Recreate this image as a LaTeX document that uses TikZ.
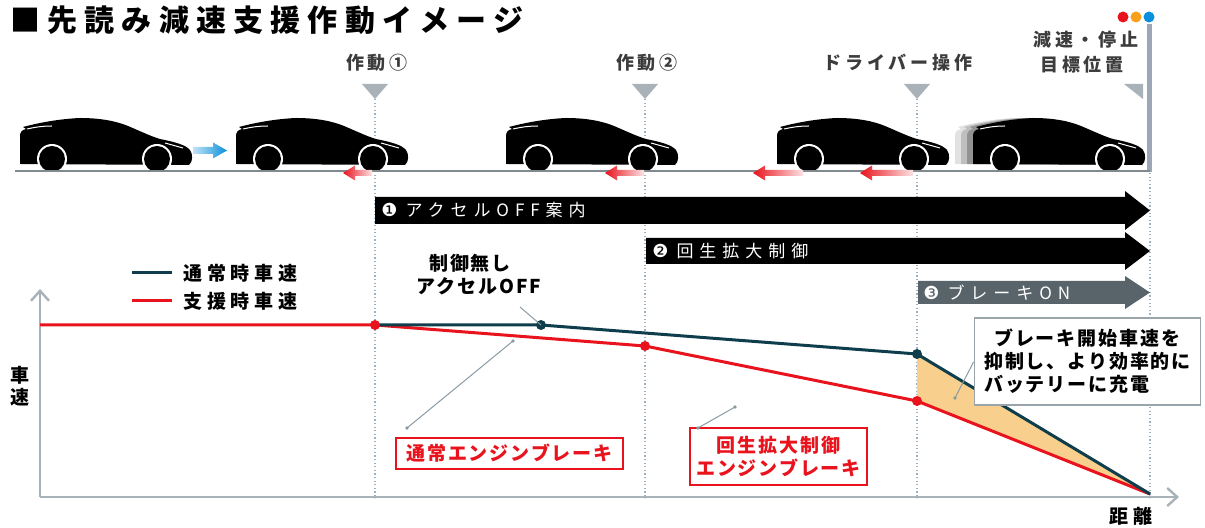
\documentclass[tikz,border=0pt]{standalone}
\usepackage{fontspec}
\usetikzlibrary{arrows.meta}
\newfontfamily\jptitle{Noto Sans CJK JP}[LetterSpace=24]
\newfontfamily\jpmark{Noto Sans CJK JP}[LetterSpace=22]
\newfontfamily\jpbar{Noto Sans CJK JP}[LetterSpace=35]
\newfontfamily\jplabel{Noto Sans CJK JP}[LetterSpace=10]
\newfontfamily\jplegend{Noto Sans CJK JP}[LetterSpace=25]
\newfontfamily\symfont{DejaVu Sans}

\definecolor{tealline}{HTML}{0E3D4C}
\definecolor{redline}{HTML}{E8131D}
\definecolor{guidegray}{HTML}{9DB1C2}
\definecolor{axisgray}{HTML}{A7B3B8}
\definecolor{markgray}{HTML}{A9B2B8}
\definecolor{labelgray}{HTML}{3C3C3C}
\definecolor{bargray}{HTML}{58636A}
\definecolor{fillorange}{HTML}{F8CF8D}
\definecolor{pinblue}{HTML}{0A8FDC}
\definecolor{pinorange}{HTML}{F7A11A}
\definecolor{stopbar}{HTML}{9CA7B6}
\definecolor{roadgray}{HTML}{80898D}
\definecolor{leadergray}{HTML}{8A9BA3}
\definecolor{boxgray}{HTML}{9AA5AB}

\newcommand{\barnum}[1]{{\symfont\fontsize{9}{10}\selectfont #1}\hspace{4pt}}

\tikzset{
  carbody/.pic={
    \fill (2,-7) -- (2,-35) .. controls (2,-39) and (4,-41) .. (8,-42)
      -- (5,-44) .. controls (20,-48) and (40,-52) .. (62,-53)
      .. controls (82,-53) and (98,-50) .. (110,-45)
      .. controls (122,-40) and (132,-35) .. (142,-32)
      .. controls (157,-29) and (168,-26) .. (172,-21)
      .. controls (175,-17) and (175,-9) .. (171,-6) -- cycle;
  },
  carshape/.pic={
    \pic {carbody};
    \foreach \wx in {34,139} {
      \fill[white] (\wx,-12) circle[radius=15];
      \fill[black] (\wx,-12) circle[radius=13];
    }
    \draw[white, line width=0.5pt] (9,-42) .. controls (18,-44) and (25,-45) .. (34,-45);
    \draw[white, line width=0.5pt] (147,-28) -- (165,-23);
  }
}

\begin{document}
\begin{tikzpicture}[x=0.5pt,y=-0.5pt,
  titletext/.style={font=\jptitle\bfseries\fontsize{15}{18}\selectfont, inner sep=0},
  marklabel/.style={font=\jpmark\bfseries\fontsize{9}{11}\selectfont, text=labelgray, inner sep=0},
  bartext/.style={font=\jpbar\fontsize{8.5}{10}\selectfont, text=white, inner sep=0, anchor=west},
  notetext/.style={font=\jplabel\bfseries\fontsize{9.5}{11.5}\selectfont, inner sep=0},
  legendtext/.style={font=\jplegend\bfseries\fontsize{9.5}{11.5}\selectfont, inner sep=0, anchor=west},
  redbox/.style={notetext, text=redline, draw=redline, line width=0.6pt, align=center},
  infobox/.style={notetext, draw=boxgray, fill=white, line width=0.6pt, align=left, inner xsep=5pt},
  marktri/.style={fill=markgray},
  guide/.style={draw=guidegray, line width=0.6pt, dash pattern=on 0.6pt off 1.2pt},
  axis/.style={draw=axisgray, line width=1.2pt, -{Straight Barb[length=5pt,width=9pt]}},
  tealpath/.style={draw=tealline, line width=1.5pt, line join=round},
  redpath/.style={draw=redline, line width=1.5pt, line join=round},
  leader/.style={draw=leadergray, line width=0.5pt},
  pindot/.style={radius=5.5},
]
\useasboundingbox (0,0) rectangle (1205,528);

% ---- title ----
\node[titletext, anchor=west] (title) at (10,20) {■先読み減速支援作動イメージ};

% ---- event markers ----
\node[marklabel] (op1) at (377,63) {作動①};
\node[marklabel] (op2) at (647,63) {作動②};
\node[marklabel] (drv) at (898,63) {ドライバー操作};
\node[marklabel] (stopA) at (1086,40) {減速・停止};
\node[marklabel] (stopB) at (1082,65) {目標位置};

\fill[marktri] (362,84) -- (388,84) -- (375,99) -- cycle;
\fill[marktri] (632,84) -- (658,84) -- (645,99) -- cycle;
\fill[marktri] (904,84) -- (930,84) -- (917,99) -- cycle;
\fill[marktri] (1124,84) -- (1143,84) -- (1143,99) -- cycle;

% stop position pole with three lamps
\draw[stopbar, line width=2.5pt] (1149,24) -- (1149,172);
\fill[redline] (1123,17) circle[pindot];
\fill[pinorange] (1136,17) circle[pindot];
\fill[pinblue] (1149,17) circle[pindot];

% ---- guide lines ----
\coordinate (g1t) at (375,99);  \coordinate (g1b) at (375,497);
\coordinate (g2t) at (645,99);  \coordinate (g2b) at (645,497);
\coordinate (g3t) at (917,99);  \coordinate (g3b) at (917,497);
\coordinate (g4t) at (1150,173); \coordinate (g4b) at (1150,497);
\draw[guide] (g1t) -- (g1b);
\draw[guide] (g2t) -- (g2b);
\draw[guide] (g3t) -- (g3b);
\draw[guide] (g4t) -- (g4b);
\foreach \gx in {375,645,917,1150} \fill[leadergray] (\gx,497) circle[radius=1.6];

% ---- cars ----
\pic at (18,171) {carshape};
\pic at (234,171) {carshape};
\pic at (504,171) {carshape};
\pic at (775,171) {carshape};
\pic[fill=black!45, opacity=0.25] at (953,171) {carbody};
\pic[fill=black!50, opacity=0.35] at (959,171) {carbody};
\pic[fill=black!60, opacity=0.5] at (965,171) {carbody};
\pic at (971,171) {carshape};

% road
\coordinate (roadL) at (15,171);
\coordinate (roadR) at (1150,171);
\draw[roadgray, line width=1pt] (roadL) -- (roadR);

% acceleration / deceleration arrows
\shade[left color=pinblue!25, right color=pinblue]
  (193,147) -- (213,147) -- (213,142.5) -- (227,150.5) -- (213,158.5) -- (213,154) -- (193,154) -- cycle;
\foreach \ax/\bx in {343/372, 605/644, 753/803, 860/913} {
  \shade[left color=redline, right color=redline!12]
    (\ax,173) -- (\ax+12,165.5) -- (\ax+12,170) -- (\bx,170) -- (\bx,176) -- (\ax+12,176) -- (\ax+12,180.5) -- cycle;
}

% ---- phase bars ----
\fill[black] (375,197) -- (1125,197) -- (1125,191) -- (1150,210.5) -- (1125,230) -- (1125,224) -- (375,224) -- cycle;
\node[bartext] (ph1) at (381,210.5) {\barnum{❶}アクセルOFF案内};
\fill[black] (646,238) -- (1125,238) -- (1125,232) -- (1150,251) -- (1125,270) -- (1125,264) -- (646,264) -- cycle;
\node[bartext] (ph2) at (652,251) {\barnum{❷}回生拡大制御};
\fill[bargray] (918,281) -- (1125,281) -- (1125,276) -- (1150,292.5) -- (1125,309) -- (1125,304) -- (918,304) -- cycle;
\node[bartext] (ph3) at (923,292.5) {\barnum{❸}ブレーキON};

% ---- legend ----
\coordinate (lgTa) at (132,273); \coordinate (lgTb) at (172,273);
\coordinate (lgRa) at (132,301); \coordinate (lgRb) at (172,301);
\draw[tealpath] (lgTa) -- (lgTb);
\draw[redpath] (lgRa) -- (lgRb);
\node[legendtext] (lgT) at (183,273) {通常時車速};
\node[legendtext] (lgR) at (183,301) {支援時車速};

% ---- axes ----
\coordinate (origin) at (40,497);
\coordinate (ytip) at (40,289);
\coordinate (xtip) at (1179,497);
\draw[axis] (origin) -- (ytip);
\draw[axis] (origin) -- (xtip);
\node[notetext] (yl1) at (20,375) {車};
\node[notetext] (yl2) at (20,397) {速};
\node[notetext, font=\jplegend\bfseries\fontsize{9.5}{11.5}\selectfont] (xl) at (1131,516) {距離};

% ---- speed curves ----
\coordinate (s0) at (40,325);
\coordinate (s1) at (375,325);
\coordinate (n1) at (541,325);
\coordinate (n2) at (917,354);
\coordinate (sp2) at (645,346);
\coordinate (sp3) at (917,401);
\coordinate (fin) at (1150,494);
\fill[fillorange] (n2) -- (fin) -- (sp3) -- cycle;
\draw[redpath] (s0) -- (s1) -- (sp2) -- (sp3) -- (fin);
\draw[tealpath] (s1) -- (n1) -- (n2) -- (fin);
\fill[redline] (s1) circle[radius=5];
\fill[redline] (sp2) circle[radius=5];
\fill[redline] (sp3) circle[radius=5];
\fill[tealline] (n1) circle[radius=5];
\fill[tealline] (n2) circle[radius=5];

% ---- annotations ----
\node[notetext] (noctl) at (470,263) {制御無し};
\node[notetext] (accoff) at (479,286) {アクセルOFF};
\coordinate (lk1) at (520,307);
\draw[leader] (lk1) -- (n1);

\node[redbox, minimum width=113.5pt, minimum height=15.5pt] (eb) at (509.5,453.5) {通常エンジンブレーキ};
\coordinate (lk2a) at (513,341);
\coordinate (lk2b) at (407,428);
\draw[leader] (lk2a) -- (lk2b);
\fill[leadergray] (lk2a) circle[radius=1.8];
\fill[leadergray] (lk2b) circle[radius=1.8];

\node[redbox, minimum width=88.5pt, minimum height=28.5pt] (regen) at (778.5,456.5) {回生拡大制御\\エンジンブレーキ};
\coordinate (lk3a) at (735,407);
\coordinate (lk3b) at (698,428);
\draw[leader] (lk3a) -- (lk3b);
\fill[leadergray] (lk3a) circle[radius=1.8];
\fill[leadergray] (lk3b) circle[radius=1.8];

\node[infobox, minimum width=102.5pt, minimum height=43.5pt] (gain) at (1087.5,361.5) {\hspace*{5pt}ブレーキ開始車速を\\抑制し、より効率的に\\バッテリーに充電};
\coordinate (lk4) at (955,398);
\draw[leader] (gain.west |- 0,362) -- (lk4);
\fill[leadergray] (lk4) circle[radius=1.8];
\end{tikzpicture}
\end{document}
